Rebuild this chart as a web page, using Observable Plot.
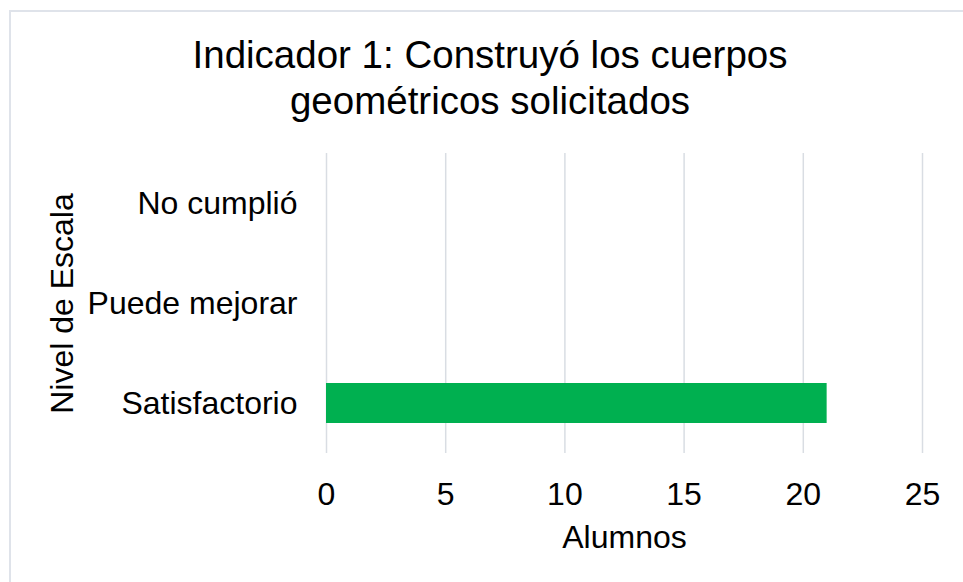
<!DOCTYPE html>
<html><head><meta charset="utf-8">
<script src="https://cdn.jsdelivr.net/npm/d3@7"></script>
<script src="https://cdn.jsdelivr.net/npm/@observablehq/plot@0.6"></script>
<style>
html,body{margin:0;padding:0;background:#fff;}
#wrap{position:relative;width:963px;height:582px;overflow:hidden;font-family:"Liberation Sans",Arial,sans-serif;}
#frame{position:absolute;left:9px;top:10px;width:1000px;height:700px;border:2px solid #dfe3ea;box-sizing:border-box;pointer-events:none;}
#title{position:absolute;left:140px;width:700px;top:32px;text-align:center;font-size:38.5px;line-height:46px;color:#000;}
#chart{position:absolute;left:0;top:0;}
</style></head>
<body>
<div id="wrap"><div id="chart"></div><div id="frame"></div>
<div id="title">Indicador 1: Construyó los cuerpos<br>geométricos solicitados</div></div>
<script>
const categories = ["No cumplió", "Puede mejorar", "Satisfactorio"];
const values = [0, 0, 21];
const xTicks = [0, 5, 10, 15, 20, 25];
const data = categories.map((c, i) => ({nivel: c, alumnos: values[i]}));

const chart = Plot.plot({
  width: 963,
  height: 582,
  marginLeft: 326,
  marginRight: 41,
  marginTop: 153,
  marginBottom: 129,
  style: {fontFamily: '"Liberation Sans", Arial, sans-serif', fontSize: "32px", color: "#000", background: "transparent"},
  x: {domain: [0, 25], ticks: xTicks, label: null},
  y: {domain: categories, paddingInner: 0.6, paddingOuter: 0.3, label: null},
  marks: [
    Plot.ruleX(xTicks, {stroke: "#d9dde3", strokeWidth: 1.5}),
    Plot.barX(data, {x: "alumnos", y: "nivel", fill: "#00b050"}),
    Plot.axisX({ticks: xTicks, tickSize: 0, tickPadding: 29, fontSize: 32, label: null}),
    Plot.axisY({tickSize: 0, tickPadding: 29, fontSize: 32, label: null}),
    Plot.text(["Alumnos"], {frameAnchor: "bottom", dy: 94, fontSize: 32}),
    Plot.text(["Nivel de Escala"], {frameAnchor: "left", textAnchor: "middle", dx: -264, rotate: -90, fontSize: 32})
  ]
});
document.getElementById("chart").appendChild(chart);
</script>
</body></html>
